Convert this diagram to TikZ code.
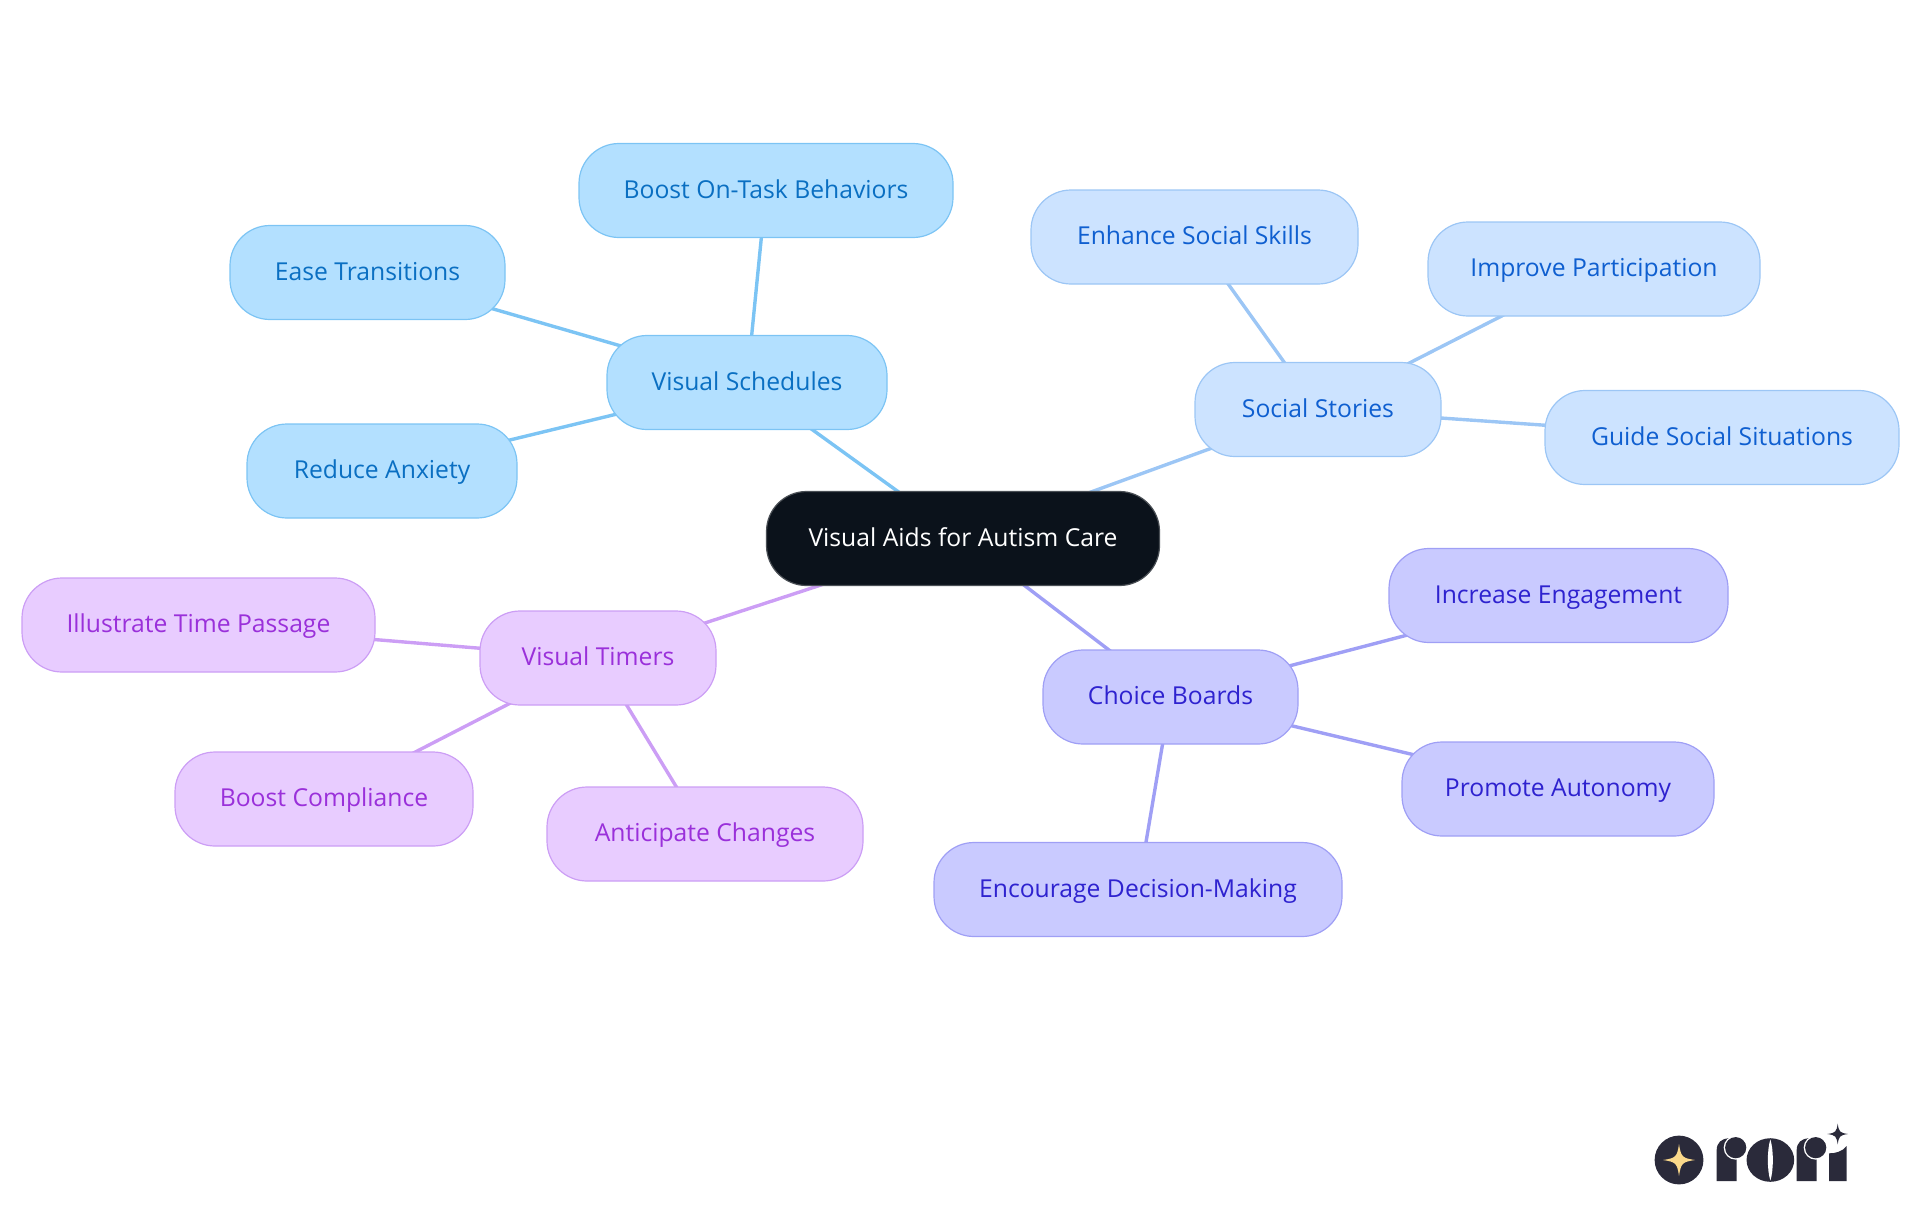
\documentclass[tikz,border=0pt]{standalone}
\usepackage{fontspec}
\setmainfont{Open Sans}
\usetikzlibrary{backgrounds}
\definecolor{rootfill}{HTML}{0B121B}
\definecolor{rootline}{HTML}{4A4F55}
\definecolor{vsfill}{HTML}{B3E0FF}
\definecolor{vsline}{HTML}{7CC4F4}
\definecolor{vstext}{HTML}{0A6FC2}
\definecolor{ssfill}{HTML}{CCE3FF}
\definecolor{ssline}{HTML}{9CC6F5}
\definecolor{sstext}{HTML}{0F5FD0}
\definecolor{cbfill}{HTML}{C9CAFF}
\definecolor{cbline}{HTML}{9F9FF5}
\definecolor{cbtext}{HTML}{2E22CF}
\definecolor{vtfill}{HTML}{E8CCFF}
\definecolor{vtline}{HTML}{CC9EF5}
\definecolor{vttext}{HTML}{9A30DA}
\definecolor{logodark}{HTML}{2A2A3A}
\definecolor{logostar}{HTML}{FBD98B}
\tikzset{
  mm/.style={rectangle,rounded corners=20pt,minimum height=47pt,inner sep=0pt,line width=.6pt,text height=10.4pt,text depth=2.6pt,font=\fontsize{12.35}{14}\selectfont},
  rootn/.style={mm,fill=rootfill,draw=rootline,text=white},
  vsn/.style={mm,fill=vsfill,draw=vsline,text=vstext},
  ssn/.style={mm,fill=ssfill,draw=ssline,text=sstext},
  cbn/.style={mm,fill=cbfill,draw=cbline,text=cbtext},
  vtn/.style={mm,fill=vtfill,draw=vtline,text=vttext},
  edge/.style={line width=1.7pt}
}
\newcommand{\logostarshape}[3]{\fill[logostarfillc] (#1-#3,#2) .. controls (#1-.2*#3,#2-.12*#3) and (#1-.12*#3,#2-.2*#3) .. (#1,#2-#3) .. controls (#1+.12*#3,#2-.2*#3) and (#1+.2*#3,#2-.12*#3) .. (#1+#3,#2) .. controls (#1+.2*#3,#2+.12*#3) and (#1+.12*#3,#2+.2*#3) .. (#1,#2+#3) .. controls (#1-.12*#3,#2+.2*#3) and (#1-.2*#3,#2+.12*#3) .. (#1-#3,#2) -- cycle;}
\newcommand{\logor}[1]{%
\begin{scope}[shift={(#1,0)}]
\fill[logodark] (290,243) -- (290,150) .. controls (290,128) and (305,115) .. (327,115) -- (350,115) -- (350,243) -- cycle;
\fill[white] (347,143) circle[radius=6pt];
\fill[logodark] (347,143) circle[radius=5.3pt];
\end{scope}}
\begin{document}
\begin{tikzpicture}[x=.5pt,y=-.5pt]
\useasboundingbox (0,0) rectangle (1920,1215);
\node[rootn,minimum width=196.5pt] (root) at (963,538.5) {Visual Aids for Autism Care};
\node[vsn,minimum width=140pt] (vs) at (747,382.5) {Visual Schedules};
\node[vsn,minimum width=187pt] (boost) at (766,190.5) {Boost On-Task Behaviors};
\node[vsn,minimum width=137.5pt] (ease) at (367.5,272.5) {Ease Transitions};
\node[vsn,minimum width=135pt] (reduce) at (382,471) {Reduce Anxiety};
\node[ssn,minimum width=123pt] (ss) at (1318,409.5) {Social Stories};
\node[ssn,minimum width=163.5pt] (enh) at (1194.5,237) {Enhance Social Skills};
\node[ssn,minimum width=166pt] (imp) at (1594,269) {Improve Participation};
\node[ssn,minimum width=177pt] (guide) at (1722,437.5) {Guide Social Situations};
\node[cbn,minimum width=127.5pt] (cb) at (1170.5,697) {Choice Boards};
\node[cbn,minimum width=169.5pt] (inc) at (1558.5,595.5) {Increase Engagement};
\node[cbn,minimum width=156pt] (pro) at (1558,789) {Promote Autonomy};
\node[cbn,minimum width=204pt] (enc) at (1138,889.5) {Encourage Decision-Making};
\node[vtn,minimum width=118pt] (vt) at (598,658) {Visual Timers};
\node[vtn,minimum width=176.5pt] (ill) at (198.5,625) {Illustrate Time Passage};
\node[vtn,minimum width=149pt] (bc) at (324,799) {Boost Compliance};
\node[vtn,minimum width=158pt] (ant) at (705,834) {Anticipate Changes};
\begin{scope}[on background layer]
\draw[edge,vsline] (root.center) -- (vs.center);
\draw[edge,vsline] (vs.center) -- (boost.center);
\draw[edge,vsline] (vs.center) -- (ease.center);
\draw[edge,vsline] (vs.center) -- (reduce.center);
\draw[edge,ssline] (root.center) -- (ss.center);
\draw[edge,ssline] (ss.center) -- (enh.center);
\draw[edge,ssline] (ss.center) -- (imp.center);
\draw[edge,ssline] (ss.center) -- (guide.center);
\draw[edge,cbline] (root.center) -- (cb.center);
\draw[edge,cbline] (cb.center) -- (inc.center);
\draw[edge,cbline] (cb.center) -- (pro.center);
\draw[edge,cbline] (cb.center) -- (enc.center);
\draw[edge,vtline] (root.center) -- (vt.center);
\draw[edge,vtline] (vt.center) -- (ill.center);
\draw[edge,vtline] (vt.center) -- (bc.center);
\draw[edge,vtline] (vt.center) -- (ant.center);
\end{scope}
\begin{scope}[shift={(1620,1100)},x=.16667pt,y=-.16667pt]
\colorlet{logostarfillc}{logodark}
\fill[logodark] (177,180) circle[radius=12.2pt];
\logor{0}
\fill[logodark] (451,180) ellipse[x radius=11.9pt,y radius=10.9pt];
\fill[white] (451,118) .. controls (441,150) and (441,210) .. (451,242) .. controls (461,210) and (461,150) .. (451,118) -- cycle;
\logor{240}
\fill[logodark] (627,243) -- (627,160) .. controls (645,160) and (668,155) .. (680,138) -- (680,243) -- cycle;
\logostarshape{653}{102}{31}
\colorlet{logostarfillc}{logostar}
\logostarshape{177}{180}{48}
\end{scope}
\end{tikzpicture}
\end{document}
